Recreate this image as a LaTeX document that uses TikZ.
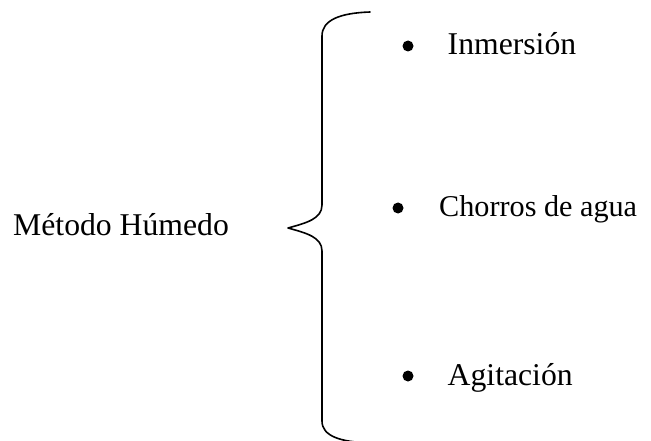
\documentclass[tikz,border=0pt]{standalone}
\usepackage{fontspec}
\setmainfont{Liberation Serif}
\begin{document}
\begin{tikzpicture}[x=1pt,y=-1pt,
  lbl/.style={anchor=base west, inner sep=0pt, font=\fontsize{31.7}{36}\selectfont},
  bul/.style={circle, fill=black, inner sep=0pt, minimum size=11pt},
  brace/.style={line width=1.6pt, line join=round, line cap=round}]
\useasboundingbox (0,0) rectangle (651,441);
\node[lbl] (m) at (13,235) {Método Húmedo};
\node[bul] (b1) at (408,46) {};
\node[lbl] (i1) at (447.5,55) {Inmersión};
\node[bul] (b2) at (398,208) {};
\node[lbl, font=\fontsize{30.2}{36}\selectfont] (i2) at (439,217) {Chorros de agua};
\node[bul] (b3) at (408,376) {};
\node[lbl] (i3) at (447.5,385) {Agitación};
\coordinate (top) at (370,12);
\coordinate (tip) at (288,228);
\coordinate (bot) at (370,443);
\draw[brace] (top) .. controls (340,13) and (322,20) .. (322,36)
  -- (322,205) .. controls (322,219) and (306,223) .. (tip)
  .. controls (306,233) and (322,237) .. (322,251)
  -- (322,421) .. controls (322,436) and (340,442) .. (bot);
\end{tikzpicture}
\end{document}
